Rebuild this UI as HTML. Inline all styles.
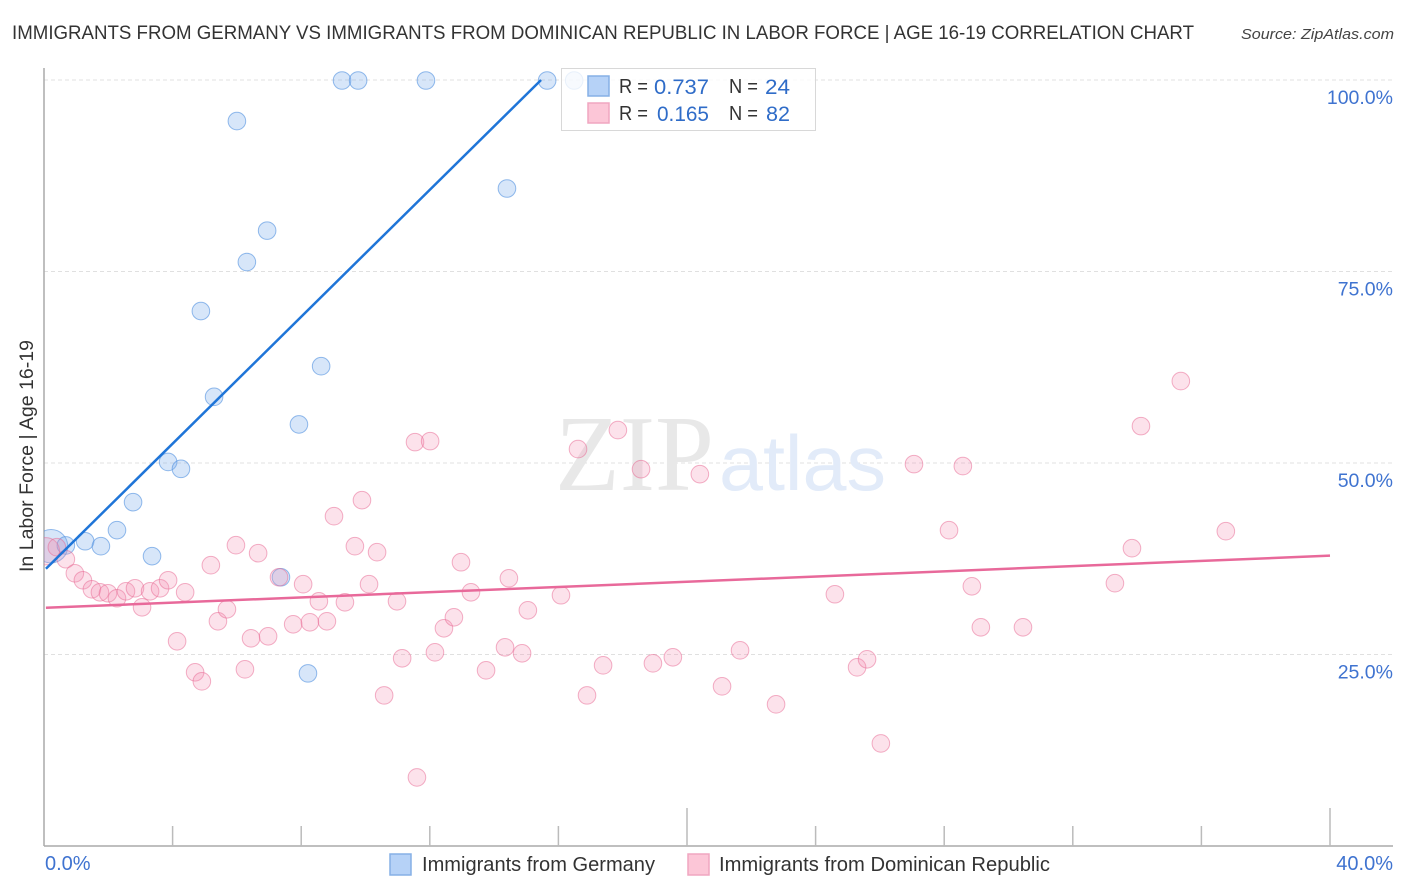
<!DOCTYPE html>
<html lang="en">
<head>
<meta charset="utf-8">
<title>Immigrants from Germany vs Immigrants from Dominican Republic in Labor Force | Age 16-19</title>
<style>
html,body{margin:0;padding:0;background:#fff;}
svg{display:block;font-family:"Liberation Sans",sans-serif;}
</style>
</head>
<body>
<svg id="chart" xmlns="http://www.w3.org/2000/svg" width="1406" height="892" viewBox="0 0 1406 892">
<defs><clipPath id="plot-clip"><rect x="44" y="60" width="1350" height="786"/></clipPath></defs>
<rect x="0" y="0" width="1406" height="892" fill="#fff"/>
<text x="12" y="39" font-size="19" fill="#333" textLength="1182" lengthAdjust="spacingAndGlyphs">IMMIGRANTS FROM GERMANY VS IMMIGRANTS FROM DOMINICAN REPUBLIC IN LABOR FORCE | AGE 16-19 CORRELATION CHART</text>
<text x="1241" y="39" font-size="15" font-style="italic" fill="#444" textLength="153" lengthAdjust="spacingAndGlyphs">Source: ZipAtlas.com</text>
<g id="grid"></g>
<g>
<text x="555" y="490" font-family="'Liberation Serif',serif" font-size="108" fill="#e8e8e8" textLength="159" lengthAdjust="spacingAndGlyphs">ZIP</text>
<text x="719" y="490" font-size="78" fill="#e2ebf9" textLength="167" lengthAdjust="spacingAndGlyphs">atlas</text>
</g>
<g id="axes"></g>
<g id="points" clip-path="url(#plot-clip)"></g>
<g id="trends"></g>
<g>
<rect x="561.5" y="68.5" width="254" height="62" fill="#fff" fill-opacity="0.8" stroke="#d8d8d8" stroke-width="1"/>
<rect x="588" y="76" width="21" height="20" fill="#b6d2f7" stroke="#86b0e6" stroke-width="1.5"/>
<rect x="588" y="103" width="21" height="20" fill="#fcc6d7" stroke="#f0a6c0" stroke-width="1.5"/>
<text x="619" y="93" font-size="20" fill="#333" textLength="29" lengthAdjust="spacingAndGlyphs">R =</text>
<text x="654" y="94" font-size="21" fill="#2f6cc8" textLength="55" lengthAdjust="spacingAndGlyphs">0.737</text>
<text x="729" y="93" font-size="20" fill="#333" textLength="29" lengthAdjust="spacingAndGlyphs">N =</text>
<text x="765" y="94" font-size="21" fill="#2f6cc8" textLength="25" lengthAdjust="spacingAndGlyphs">24</text>
<text x="619" y="120" font-size="20" fill="#333" textLength="29" lengthAdjust="spacingAndGlyphs">R =</text>
<text x="657" y="121" font-size="21" fill="#2f6cc8" textLength="52" lengthAdjust="spacingAndGlyphs">0.165</text>
<text x="729" y="120" font-size="20" fill="#333" textLength="29" lengthAdjust="spacingAndGlyphs">N =</text>
<text x="766" y="121" font-size="21" fill="#2f6cc8" textLength="24" lengthAdjust="spacingAndGlyphs">82</text>
</g>
<text transform="translate(33,572) rotate(-90)" font-size="19" fill="#333" textLength="232" lengthAdjust="spacingAndGlyphs">In Labor Force | Age 16-19</text>
<g>
<rect x="390" y="854" width="21" height="21" fill="#b6d2f7" stroke="#86b0e6" stroke-width="1.5"/>
<text x="422" y="871" font-size="20" fill="#333" textLength="233" lengthAdjust="spacingAndGlyphs">Immigrants from Germany</text>
<rect x="688" y="854" width="21" height="21" fill="#fcc6d7" stroke="#f0a6c0" stroke-width="1.5"/>
<text x="719" y="871" font-size="20" fill="#333" textLength="331" lengthAdjust="spacingAndGlyphs">Immigrants from Dominican Republic</text>
</g>
</svg>
<script>
const yTicks = [25, 50, 75, 100];
const yTickLabels = ["25.0%", "50.0%", "75.0%", "100.0%"];
const xTicks = [0, 4, 8, 12, 16, 20, 24, 28, 32, 36, 40];
const xMajorTicks = [20, 40];
const xEndLabels = ["0.0%", "40.0%"];
const xDomain = [0, 40];
const yDomain = [0, 100];

const germanyX = [0.22,0.68,1.28,1.77,2.27,2.77,3.36,3.86,4.26,4.88,5.29,6.00,6.31,6.94,7.37,7.93,8.21,8.62,9.27,9.77,11.88,14.40,15.65,16.49];
const germanyY = [39.2,39.3,39.85,39.2,41.3,44.95,37.9,50.2,49.3,69.9,58.7,94.7,76.3,80.4,35.15,55.1,22.6,62.7,100,100,100,85.9,100,100];
const germanyWeight = [3.6,1,1,1,1,1,1,1,1,1,1,1,1,1,1,1,1,1,1,1,1,1,1,1];

const dominicanX = [0.06,0.40,0.68,0.96,1.21,1.49,1.74,1.99,2.27,2.55,2.83,3.05,3.30,3.61,3.86,4.14,4.39,4.70,4.91,5.19,5.41,5.69,5.97,6.25,6.44,6.66,6.97,7.31,7.75,8.06,8.27,8.55,8.80,9.02,9.36,9.67,9.89,10.11,10.36,10.58,10.98,11.14,11.54,11.60,12.01,12.16,12.44,12.75,12.97,13.28,13.75,14.34,14.46,14.87,15.05,16.08,16.61,16.89,17.39,17.85,18.57,18.94,19.56,20.40,21.09,21.65,22.77,24.60,25.29,25.60,26.03,27.06,28.15,28.58,28.86,29.14,30.45,33.31,33.84,34.12,35.36,36.76];
const dominicanY = [38.55,39.07,37.50,35.67,34.76,33.58,33.19,33.06,32.41,33.32,33.71,31.23,33.32,33.71,34.76,26.79,33.19,22.74,21.56,36.72,29.40,30.97,39.33,23.13,27.18,38.29,27.44,35.15,29.01,34.24,29.27,32.01,29.40,43.12,31.88,39.20,45.21,34.24,38.42,19.73,32.01,24.57,52.79,9.02,52.92,25.35,28.49,29.92,37.11,33.19,23.00,26.00,35.02,25.22,30.84,32.80,51.88,19.73,23.65,54.36,49.26,23.91,24.70,48.61,20.91,25.61,18.56,32.93,23.39,24.44,13.46,49.92,41.29,49.66,33.97,28.62,28.62,34.37,38.94,54.88,60.76,41.16];
const dominicanWeight = [2.4];

const germanyTrendX = [0.06, 15.46];
const germanyTrendY = [36.2, 100];
const dominicanTrendX = [0.06, 40];
const dominicanTrendY = [31.1, 37.9];

const NS = "http://www.w3.org/2000/svg";
const plotLeft = 44, plotRight = 1330, plotBottom = 846, plotTop = 80, frameRight = 1393, frameTop = 68;
function xScale(v) { return plotLeft + (v - xDomain[0]) / (xDomain[1] - xDomain[0]) * (plotRight - plotLeft); }
function yScale(v) { return plotBottom - (v - yDomain[0]) / (yDomain[1] - yDomain[0]) * (plotBottom - plotTop); }
function make(tag, attrs) {
  const el = document.createElementNS(NS, tag);
  for (const k in attrs) el.setAttribute(k, attrs[k]);
  return el;
}
const gridG = document.getElementById("grid");
const axesG = document.getElementById("axes");
const pointsG = document.getElementById("points");
const trendsG = document.getElementById("trends");

yTicks.forEach(function (t, i) {
  const line = make("line", {x1: plotLeft, x2: frameRight, y1: yScale(t), y2: yScale(t), stroke: "#e0e0e0", "stroke-width": 1, "stroke-dasharray": "4 3"});
  
  
  gridG.appendChild(line);
  const label = make("text", {x: frameRight, y: yScale(t) + 24, "text-anchor": "end", "font-size": 19.5, fill: "#3f73d0"});
  
  
  label.textContent = yTickLabels[i];
  axesG.appendChild(label);
});

const yAxis = make("line", {x1: plotLeft, x2: plotLeft, y1: frameTop, y2: plotBottom, stroke: "#aaa", "stroke-width": 1.5});


axesG.appendChild(yAxis);
const xAxis = make("line", {x1: plotLeft, x2: frameRight, y1: plotBottom, y2: plotBottom, stroke: "#aaa", "stroke-width": 1.5});


axesG.appendChild(xAxis);

xTicks.forEach(function (t) {
  if (t === xDomain[0]) return;
  const major = xMajorTicks.indexOf(t) >= 0;
  const tick = make("line", {x1: xScale(t), x2: xScale(t), y1: major ? 808 : 826, y2: plotBottom, stroke: "#bbb", "stroke-width": 1.5});
  
  
  axesG.appendChild(tick);
});

const xLabelLeft = make("text", {x: plotLeft + 1, y: 870, "font-size": 20, fill: "#3f73d0"});


xLabelLeft.textContent = xEndLabels[0];
axesG.appendChild(xLabelLeft);
const xLabelRight = make("text", {x: frameRight, y: 870, "text-anchor": "end", "font-size": 20, fill: "#3f73d0"});


xLabelRight.textContent = xEndLabels[1];
axesG.appendChild(xLabelRight);

function radius(weights, i) {
  const w = weights[i] === undefined ? 1 : weights[i];
  return 8.8 * Math.sqrt(w);
}
germanyX.forEach(function (v, i) {
  const c = make("circle", {cx: xScale(v), cy: yScale(germanyY[i]) + 0.5, r: radius(germanyWeight, i), fill: "#7aabec", "fill-opacity": 0.3, stroke: "#4f8fe0", "stroke-opacity": 0.6, "stroke-width": 1});
  
  
  pointsG.appendChild(c);
});
dominicanX.forEach(function (v, i) {
  const c = make("circle", {cx: xScale(v), cy: yScale(dominicanY[i]) + 0.5, r: radius(dominicanWeight, i), fill: "#f48fb0", "fill-opacity": 0.26, stroke: "#e8638f", "stroke-opacity": 0.5, "stroke-width": 1});
  
  
  pointsG.appendChild(c);
});

const germanyLine = make("line", {x1: xScale(germanyTrendX[0]), y1: yScale(germanyTrendY[0]), x2: xScale(germanyTrendX[1]), y2: yScale(germanyTrendY[1]), stroke: "#1f75d8", "stroke-width": 2.5});


trendsG.appendChild(germanyLine);
const dominicanLine = make("line", {x1: xScale(dominicanTrendX[0]), y1: yScale(dominicanTrendY[0]), x2: xScale(dominicanTrendX[1]), y2: yScale(dominicanTrendY[1]), stroke: "#e8699a", "stroke-width": 2.5});


trendsG.appendChild(dominicanLine);
</script>
</body>
</html>
